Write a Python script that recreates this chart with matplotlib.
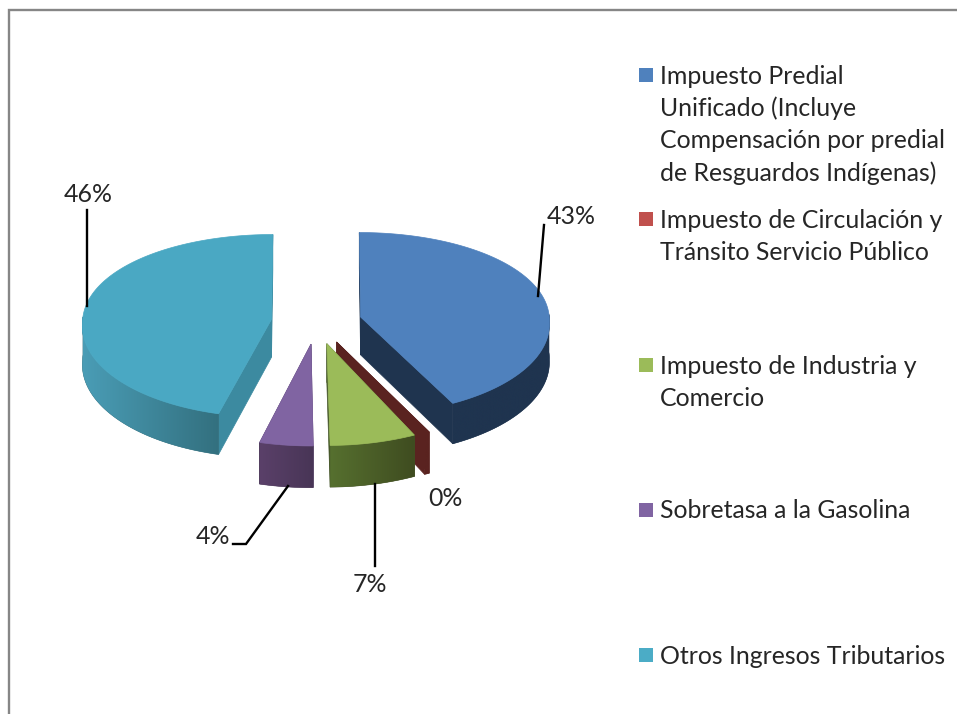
import numpy as np
import matplotlib
matplotlib.use("Agg")
import matplotlib.pyplot as plt
from matplotlib.patches import Polygon, Rectangle
from matplotlib.colors import LinearSegmentedColormap

# ---- data ----
categories = [
    "Impuesto Predial\nUnificado (Incluye\nCompensación por predial\nde Resguardos Indígenas)",
    "Impuesto de Circulación y\nTránsito Servicio Público",
    "Impuesto de Industria y\nComercio",
    "Sobretasa a la Gasolina",
    "Otros Ingresos Tributarios",
]
values = [42.6, 0.4, 6.8, 4.2, 46.0]
percent_labels = ["43%", "0%", "7%", "4%", "46%"]

# ---- style ----
top_colors = ["#4F81BD", "#C0504D", "#9BBB59", "#8064A2", "#4AA8C3"]
legend_colors = ["#4F81BD", "#C0504D", "#9BBB59", "#8064A2", "#4BACC6"]
face_colors = ["#1F344F", "#5A2320", "#46582A", "#4F3A63", "#3C8AA0"]
side_from = ["#1F344F", "#5A2320", "#56702F", "#5A4069", "#4A9DB6"]   # left end of rim
side_to = ["#1F344F", "#5A2320", "#3F4C20", "#483556", "#33707F"]     # right end of rim
draw_order = [4, 0, 3, 1, 2]

CX, CY, A, B, PX_FAR, PX_NEAR, PY, DEPTH, EXPLODE = 316.5, 322, 189, 91.2, 0.03, 0.065, 0.0717, 38, 0.24
FONT = "Lato"
FS = 17.9
TXT = "#262626"

fig = plt.figure(figsize=(9.57, 7.14), dpi=100)
ax = fig.add_axes([0, 0, 1, 1])


def project(u, v, z=0.0):
    sx = 1 / (1 + (PX_FAR if v > 0 else PX_NEAR) * v)
    sy = 1 / (1 + PY * v)
    return CX + A * u * sx, CY - B * v * sy + DEPTH * z * sy


fractions = np.array(values) / np.sum(values) * 2 * np.pi
ends = np.cumsum(fractions)
starts = ends - fractions

z = 1.0
for i in draw_order:
    t0, t1 = starts[i], ends[i]
    mid = (t0 + t1) / 2
    eu, ev = EXPLODE * np.sin(mid), EXPLODE * np.cos(mid)
    ths = np.linspace(t0, t1, max(6, int(np.degrees(t1 - t0) * 1.5)))
    us, vs = eu + np.sin(ths), ev + np.cos(ths)

    # radial faces
    for edge in (0, -1):
        quad = [project(eu, ev, 0), project(us[edge], vs[edge], 0),
                project(us[edge], vs[edge], 1), project(eu, ev, 1)]
        z += 0.01
        ax.add_patch(Polygon(quad, closed=True, fc=face_colors[i], ec=face_colors[i], lw=0.5, zorder=z))

    # outer rim with a left-to-right gradient, clipped to the rim outline
    vis = np.where(np.cos(ths) <= 0.03)[0]
    if len(vis) > 1:
        upper = [project(us[k], vs[k], 0) for k in vis]
        lower = [project(us[k], vs[k], 1) for k in vis]
        outline = np.array(upper + lower[::-1])
        z += 0.01
        rim = Polygon(outline, closed=True, fc=side_to[i], ec=side_to[i], lw=0.4, zorder=z)
        ax.add_patch(rim)
        cmap = LinearSegmentedColormap.from_list("rim", [side_from[i], side_to[i]])
        z += 0.01
        im = ax.imshow(np.linspace(0, 1, 256)[None, :], cmap=cmap, aspect="auto",
                       extent=(outline[:, 0].min(), outline[:, 0].max(),
                               outline[:, 1].max(), outline[:, 1].min()),
                       interpolation="bilinear", zorder=z)
        im.set_clip_path(rim)

    # top surface
    top = [project(eu, ev)] + [project(u, v) for u, v in zip(us, vs)]
    top_col = face_colors[i] if values[i] < 1 else top_colors[i]
    z += 0.01
    ax.add_patch(Polygon(top, closed=True, fc=top_col, ec=top_col, lw=0.5, zorder=z))

ZL = z + 1

# leader lines
leaders = {
    0: [(538, 296), (544, 225)],
    2: [(375, 484), (375, 566)],
    3: [(288, 486), (246, 544), (233, 544)],
    4: [(87, 306), (87, 210)],
}
for pts in leaders.values():
    xs, ys = zip(*pts)
    ax.plot(xs, ys, color="black", lw=1.7, solid_joinstyle="miter", zorder=ZL)

# percentage labels
label_pos = [(571, 217), (445, 498), (370, 585), (213, 537), (88, 195)]
for txt, (x, y) in zip(percent_labels, label_pos):
    ax.text(x, y, txt, ha="center", va="center", fontsize=FS, family=FONT, color=TXT, zorder=ZL)

# legend
legend_y = [75, 219, 365, 510, 655]
LINE = 32.4
for cat, y, col in zip(categories, legend_y, legend_colors):
    ax.add_patch(Rectangle((639, y - 7), 14, 14, fc=col, ec="none", zorder=ZL))
    for k, line in enumerate(cat.split("\n")):
        ax.text(660, y + 1 + k * LINE, line, ha="left", va="center", fontsize=FS, family=FONT, color=TXT, zorder=ZL)

# frame
ax.plot([8.5, 8.5, 957], [714, 10, 10], color="#868686", lw=1.7, solid_joinstyle="miter", zorder=ZL)

ax.set_xlim(0, 957)
ax.set_ylim(714, 0)
ax.axis("off")

fig.savefig("out.png", dpi=100, facecolor="white")
